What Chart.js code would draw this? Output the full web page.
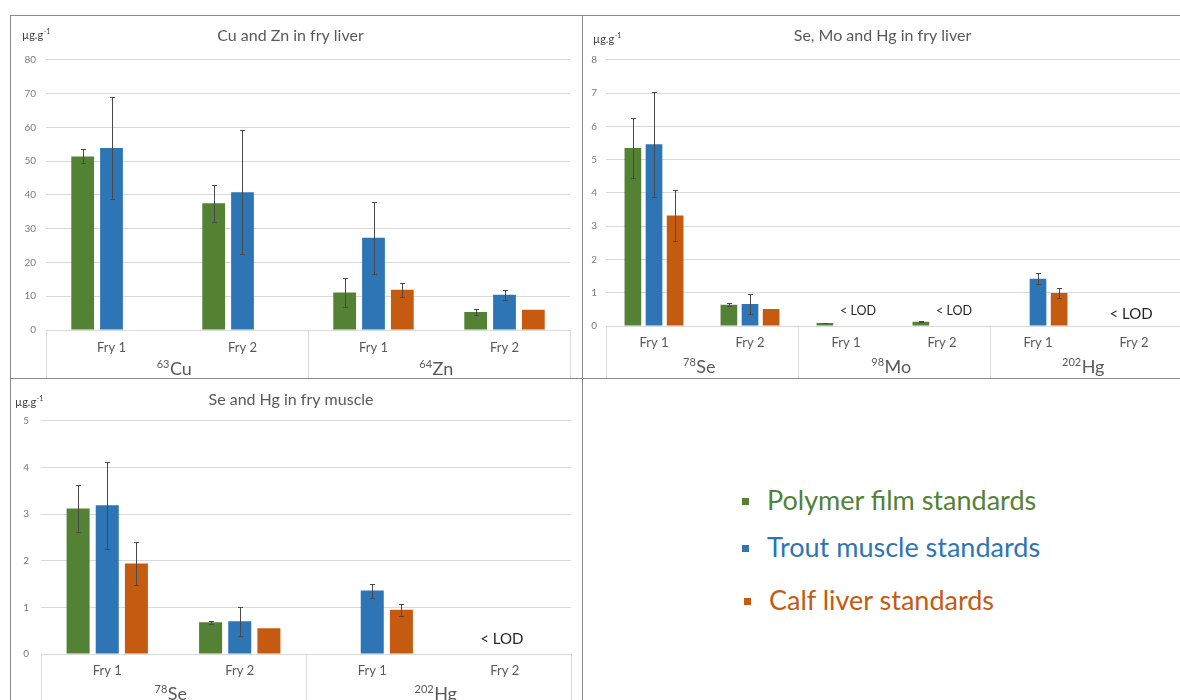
<!DOCTYPE html>
<html>
<head>
<meta charset="utf-8">
<script src="https://cdn.jsdelivr.net/npm/chart.js@4.4.1/dist/chart.umd.min.js"></script>
<style>
  html, body { margin: 0; padding: 0; background: #fff; width: 1180px; height: 700px; overflow: hidden; position: relative; font-family: Lato, "Noto Sans", sans-serif; }
  .cv { position: absolute; }
  .ln { position: absolute; background: #8a8a8a; }
  .leg { position: absolute; left: 742px; font-size: 27px; line-height: 32px; white-space: nowrap; }
  .leg .sq { display: inline-block; width: 7px; height: 7px; margin-right: 18px; vertical-align: middle; position: relative; top: -2px; }
</style>
</head>
<body>
<div class="ln" style="left:10px;top:15px;width:1170px;height:1px"></div>
<div class="ln" style="left:10px;top:15px;width:1px;height:685px"></div>
<div class="ln" style="left:582px;top:15px;width:1px;height:685px"></div>
<div class="ln" style="left:10px;top:378px;width:1170px;height:1px"></div>

<div class="cv" style="left:11px;top:16px;width:571px;height:362px"><canvas id="c1"></canvas></div>
<div class="cv" style="left:583px;top:16px;width:610px;height:362px"><canvas id="c2"></canvas></div>
<div class="cv" style="left:11px;top:379px;width:571px;height:340px"><canvas id="c3"></canvas></div>

<div class="leg" id="leg0" style="top:484px"></div>
<div class="leg" id="leg1" style="top:531px"></div>
<div class="leg" id="leg2" style="top:584px;left:744px"></div>

<script>
// ---------- shared ----------
const seriesNames = ['Polymer film standards', 'Trout muscle standards', 'Calf liver standards'];
const seriesColors = ['#548235', '#2E75B6', '#C55A11'];

// ---------- Chart 1: Cu and Zn in fry liver ----------
const c1Title = 'Cu and Zn in fry liver';
const c1Categories = ['Fry 1', 'Fry 2', 'Fry 1', 'Fry 2'];
const c1GroupIso = ['63', '64'];
const c1GroupEl = ['Cu', 'Zn'];
const c1GroupSize = [2, 2];
const c1Polymer = [51.4, 37.5, 11.1, 5.3];
const c1PolymerErr = [2.1, 5.5, 4.3, 1.0];
const c1Trout = [53.9, 40.8, 27.3, 10.4];
const c1TroutErr = [15.0, 18.3, 10.7, 1.4];
const c1Calf = [null, null, 11.9, 6.0];
const c1CalfErr = [null, null, 2.0, null];
const c1YTicks = [0, 10, 20, 30, 40, 50, 60, 70, 80];
const c1Lod = [];

// ---------- Chart 2: Se, Mo and Hg in fry liver ----------
const c2Title = 'Se, Mo and Hg in fry liver';
const c2Categories = ['Fry 1', 'Fry 2', 'Fry 1', 'Fry 2', 'Fry 1', 'Fry 2'];
const c2GroupIso = ['78', '98', '202'];
const c2GroupEl = ['Se', 'Mo', 'Hg'];
const c2GroupSize = [2, 2, 2];
const c2Polymer = [5.35, 0.64, 0.09, 0.13, null, null];
const c2PolymerErr = [0.91, 0.04, 0.01, 0.01, null, null];
const c2Trout = [5.46, 0.66, null, null, 1.42, null];
const c2TroutErr = [1.57, 0.30, null, null, 0.16, null];
const c2Calf = [3.32, 0.51, null, null, 0.99, null];
const c2CalfErr = [0.78, null, null, null, 0.15, null];
const c2YTicks = [0, 1, 2, 3, 4, 5, 6, 7, 8];
const c2Lod = [2, 3, 5];
const c2LodText = ['< LOD', '< LOD', '< LOD'];

// ---------- Chart 3: Se and Hg in fry muscle ----------
const c3Title = 'Se and Hg in fry muscle';
const c3Categories = ['Fry 1', 'Fry 2', 'Fry 1', 'Fry 2'];
const c3GroupIso = ['78', '202'];
const c3GroupEl = ['Se', 'Hg'];
const c3GroupSize = [2, 2];
const c3Polymer = [3.12, 0.68, null, null];
const c3PolymerErr = [0.51, 0.035, null, null];
const c3Trout = [3.19, 0.70, 1.36, null];
const c3TroutErr = [0.93, 0.31, 0.15, null];
const c3Calf = [1.94, 0.55, 0.95, null];
const c3CalfErr = [0.46, null, 0.125, null];
const c3YTicks = [0, 1, 2, 3, 4, 5];
const c3Lod = [3];
const c3LodText = ['< LOD'];

// legend
seriesNames.forEach((n, i) => {
  const el = document.getElementById('leg' + i);
  el.style.color = seriesColors[i];
  el.innerHTML = '<span class="sq" style="background:' + seriesColors[i] + '"></span>' + n;
});

const FONT = 'Lato, "Noto Sans", sans-serif';
const TXT = '#595959';
const GRID = '#d9d9d9';

const annot = {
  id: 'annot',
  afterDatasetsDraw(chart, args, opts) {
    const ctx = chart.ctx, ys = chart.scales.y;
    ctx.save();
    ctx.strokeStyle = '#4a4a4a';
    ctx.lineWidth = 1;
    chart.data.datasets.forEach((ds, di) => {
      const meta = chart.getDatasetMeta(di);
      ds.errors.forEach((e, i) => {
        if (e == null || ds.data[i] == null) return;
        const cx = Math.round(meta.data[i].x) + 0.5;
        const yt = Math.round(ys.getPixelForValue(ds.data[i] + e)) + 0.5;
        const yb = Math.round(ys.getPixelForValue(ds.data[i] - e)) + 0.5;
        ctx.beginPath();
        ctx.moveTo(cx, yt); ctx.lineTo(cx, yb);
        ctx.moveTo(cx - 2.5, yt); ctx.lineTo(cx + 2.5, yt);
        ctx.moveTo(cx - 2.5, yb); ctx.lineTo(cx + 2.5, yb);
        ctx.stroke();
      });
    });
    ctx.restore();
  },
  afterDraw(chart, args, opts) {
    const ctx = chart.ctx, xs = chart.scales.x, a = chart.chartArea;
    const n = chart.data.labels.length;
    const step = (a.right - a.left) / n;
    ctx.save();
    // axis box
    ctx.strokeStyle = GRID;
    ctx.lineWidth = 1;
    const bounds = [0];
    opts.groupSize.forEach(s => bounds.push(bounds[bounds.length - 1] + s));
    ctx.beginPath();
    bounds.forEach(b => {
      const x = Math.round(a.left + b * step) + 0.5;
      ctx.moveTo(x, a.bottom); ctx.lineTo(x, chart.height);
    });
    ctx.stroke();
    // category labels
    ctx.fillStyle = TXT;
    ctx.textAlign = 'center';
    ctx.textBaseline = 'middle';
    ctx.font = '13px ' + FONT;
    chart.data.labels.forEach((l, i) => {
      ctx.fillText(l, xs.getPixelForValue(i), a.bottom + opts.fryOffset);
    });
    // group labels
    opts.groupEl.forEach((el, g) => {
      const cx = a.left + (bounds[g] + bounds[g + 1]) / 2 * step;
      ctx.font = '11px ' + FONT;
      const w1 = ctx.measureText(opts.groupIso[g]).width;
      ctx.font = '18px ' + FONT;
      const w2 = ctx.measureText(el).width;
      const x0 = cx - (w1 + w2) / 2 - 3;
      const yb = a.bottom + opts.groupOffset + 7;
      ctx.textAlign = 'left';
      ctx.textBaseline = 'alphabetic';
      ctx.font = '11px ' + FONT;
      ctx.fillText(opts.groupIso[g], x0, yb - 7);
      ctx.font = '18px ' + FONT;
      ctx.fillText(el, x0 + w1 + 0.5, yb);
    });
    // unit
    ctx.fillStyle = '#404040';
    ctx.textAlign = 'left';
    ctx.textBaseline = 'alphabetic';
    ctx.font = '11px ' + FONT;
    ctx.fillText('µg.g', opts.unitX, opts.unitY);
    const wu = ctx.measureText('µg.g').width;
    ctx.font = '7px ' + FONT;
    ctx.fillText('-1', wu + opts.unitX + 0.5, opts.unitY - 5);
    // LOD labels
    ctx.fillStyle = '#262626';
    ctx.textAlign = 'center';
    ctx.textBaseline = 'middle';
    opts.lod.forEach((ci, k) => {
      const last = ci === n - 1;
      ctx.font = (last ? '15px ' : '12.5px ') + FONT;
      const dx = last ? -3 : 12;
      const y = a.bottom - (last ? opts.lodBigLift : 15);
      ctx.fillText(opts.lodText[k], xs.getPixelForValue(ci) + dx, y);
    });
    ctx.restore();
  }
};

function makeChart(id, cfg) {
  const dsets = [
    { label: seriesNames[0], data: cfg.p, errors: cfg.pe, backgroundColor: seriesColors[0] },
    { label: seriesNames[1], data: cfg.t, errors: cfg.te, backgroundColor: seriesColors[1] },
    { label: seriesNames[2], data: cfg.c, errors: cfg.ce, backgroundColor: seriesColors[2] }
  ];
  return new Chart(document.getElementById(id), {
    type: 'bar',
    data: { labels: cfg.labels, datasets: dsets },
    plugins: [annot],
    options: {
      responsive: true,
      maintainAspectRatio: false,
      animation: false,
      categoryPercentage: 0.66,
      barPercentage: 0.79,
      layout: { padding: { left: 0, right: cfg.padRight, top: 0, bottom: 0 } },
      plugins: {
        legend: { display: false },
        tooltip: { enabled: false },
        title: {
          display: true, text: cfg.title, color: TXT,
          font: { family: FONT, size: 16, weight: 'normal' },
          padding: { top: cfg.titleTop, bottom: cfg.titleBottom }
        },
        annot: {
          groupIso: cfg.iso, groupEl: cfg.el, groupSize: cfg.gs,
          lod: cfg.lod, lodText: cfg.lodText,
          fryOffset: cfg.fryOffset, groupOffset: cfg.groupOffset,
          unitX: cfg.unitX, unitY: cfg.unitY, lodBigLift: cfg.lodBigLift
        }
      },
      scales: {
        x: {
          ticks: { display: false },
          grid: { display: false },
          border: { display: false },
          afterFit(s) { s.height = cfg.xHeight; }
        },
        y: {
          min: cfg.yt[0], max: cfg.yt[cfg.yt.length - 1],
          ticks: { stepSize: cfg.yt[1] - cfg.yt[0], color: '#7a7a7a', font: { family: FONT, size: 10 }, padding: cfg.tickPad },
          grid: { color: GRID, drawTicks: false },
          border: { display: false },
          afterFit(s) { s.width = cfg.yWidth; }
        }
      }
    }
  });
}

makeChart('c1', {
  title: c1Title, labels: c1Categories, iso: c1GroupIso, el: c1GroupEl, gs: c1GroupSize,
  p: c1Polymer, pe: c1PolymerErr, t: c1Trout, te: c1TroutErr, c: c1Calf, ce: c1CalfErr,
  yt: c1YTicks, lod: c1Lod, lodText: [],
  titleTop: 10, titleBottom: 14.6, padRight: 12, yWidth: 35, tickPad: 10, xHeight: 48,
  fryOffset: 18, groupOffset: 38, unitX: 11, unitY: 23, lodBigLift: 15
});
makeChart('c2', {
  title: c2Title, labels: c2Categories, iso: c2GroupIso, el: c2GroupEl, gs: c2GroupSize,
  p: c2Polymer, pe: c2PolymerErr, t: c2Trout, te: c2TroutErr, c: c2Calf, ce: c2CalfErr,
  yt: c2YTicks, lod: c2Lod, lodText: c2LodText,
  titleTop: 10, titleBottom: 14.6, padRight: 11, yWidth: 23, tickPad: 9, xHeight: 52,
  fryOffset: 17, groupOffset: 40, unitX: 10, unitY: 27, lodBigLift: 12
});
makeChart('c3', {
  title: c3Title, labels: c3Categories, iso: c3GroupIso, el: c3GroupEl, gs: c3GroupSize,
  p: c3Polymer, pe: c3PolymerErr, t: c3Trout, te: c3TroutErr, c: c3Calf, ce: c3CalfErr,
  yt: c3YTicks, lod: c3Lod, lodText: c3LodText,
  titleTop: 11, titleBottom: 11.6, padRight: 11, yWidth: 30, tickPad: 12, xHeight: 65,
  fryOffset: 17, groupOffset: 39, unitX: 4, unitY: 27, lodBigLift: 15
});
</script>
</body>
</html>
